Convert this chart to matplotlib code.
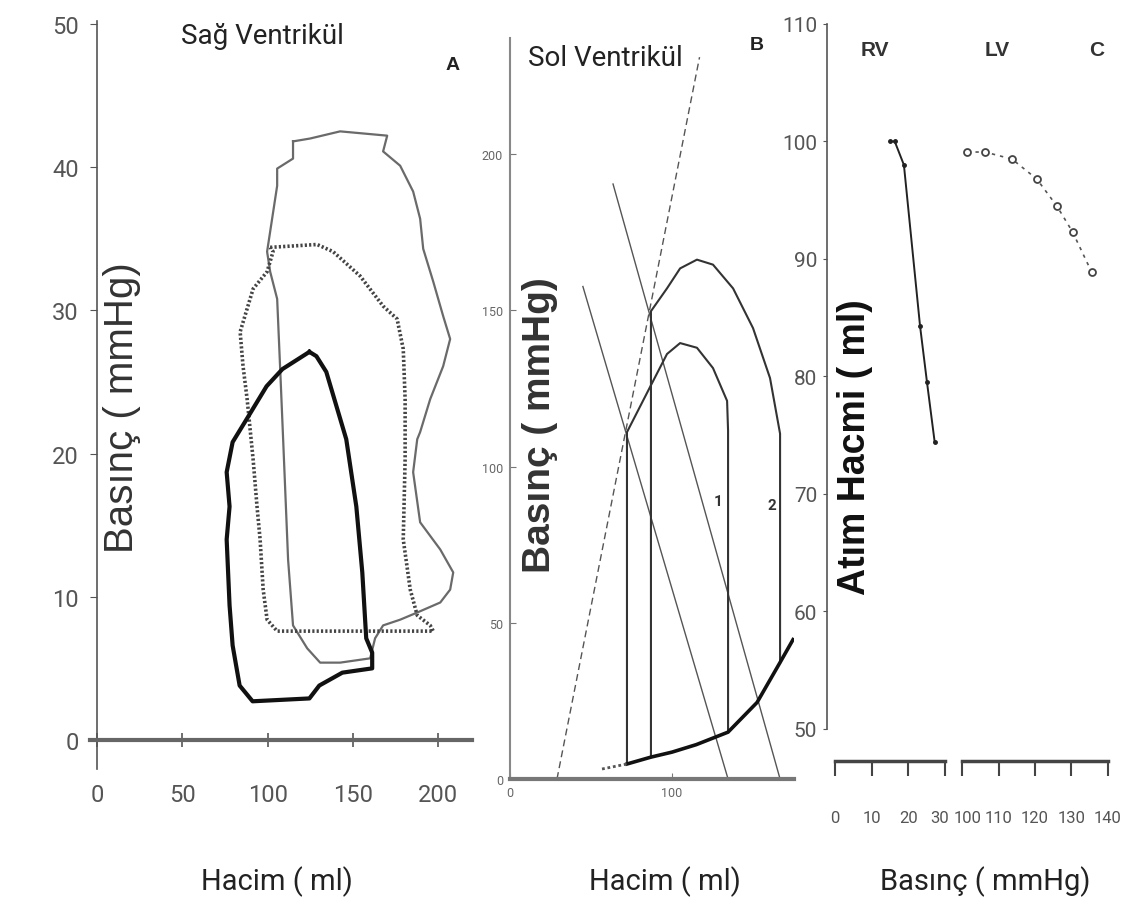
import numpy as np
import matplotlib
matplotlib.use("Agg")
import matplotlib.pyplot as plt
import matplotlib.transforms as mtransforms

W, H = 1123, 920
NARROW = ['Roboto', 'DejaVu Sans']
ARIAL = ['Liberation Sans', 'DejaVu Sans']

# ---- Panel A: sağ ventrikül basınç-hacim döngüleri
a_xticks = [0, 50, 100, 150, 200]
a_yticks = [0, 10, 20, 30, 40, 50]
# kalın düz döngü
thick_v = [124.5, 108.7, 99.4, 87.7, 79.5, 76.0, 77.7, 76.0, 77.7, 79.5, 83.6, 91.2,
           124.5, 130.3, 143.8, 161.3, 161.3, 157.8, 155.5, 152.0, 146.1, 134.4, 128.6, 124.5]
thick_p = [27.1, 25.9, 24.7, 22.4, 20.8, 18.7, 16.3, 14.0, 9.4, 6.6, 3.8, 2.7,
           2.9, 3.8, 4.7, 5.0, 6.1, 7.1, 11.7, 16.3, 21.0, 25.7, 26.8, 27.1]
# noktalı döngü
dot_v = [101.5, 129.0, 138.4, 154.2, 167.7, 175.9, 179.5, 180.6, 180.6, 179.5, 183.6, 187.7,
         195.3, 197.1, 105.6, 99.7, 97.4, 95.6, 93.8, 91.5, 88.0, 85.6, 83.9, 91.5, 99.7, 103.2, 101.5]
dot_p = [34.4, 34.6, 34.1, 32.4, 30.3, 29.4, 27.3, 23.8, 19.6, 14.0, 10.5, 8.7,
         8.0, 7.6, 7.6, 8.4, 10.5, 14.0, 16.3, 19.6, 23.8, 26.1, 28.5, 31.5, 32.7, 34.1, 34.4]
# ince gri döngü
thin_v = [114.9, 124.9, 142.5, 170.1, 167.7, 177.7, 185.3, 189.4, 191.2, 197.1, 202.9, 207.0,
          202.9, 195.3, 189.4, 187.7, 185.3, 189.4, 201.2, 208.8, 207.0, 201.2, 187.7, 177.7,
          167.7, 163.0, 160.1, 142.5, 130.8, 123.2, 114.9, 112.0, 109.1, 107.3, 105.6, 101.5,
          99.7, 105.6, 105.6, 114.9, 114.9]
thin_p = [41.8, 42.0, 42.5, 42.2, 41.1, 40.1, 38.3, 36.4, 34.3, 32.0, 29.6, 28.0,
          26.1, 23.8, 21.5, 21.0, 18.7, 15.2, 13.3, 11.7, 10.5, 9.6, 8.9, 8.4,
          8.0, 7.1, 5.7, 5.4, 5.4, 6.4, 8.0, 12.6, 21.0, 26.1, 30.8, 32.7,
          34.1, 38.7, 39.9, 40.6, 41.8]

# ---- Panel B: sol ventrikül (şematik)
b_xticks = [0, 100]
b_yticks = [0, 50, 100, 150, 200]
espvr_v = [29, 117]
espvr_p = [0, 231]
ea1_v = [45, 134.6]
ea1_p = [157.6, 0]
ea2_v = [63.6, 166.7]
ea2_p = [190.4, 0]
edpvr_v = [72.2, 87, 100, 115, 134.6, 152.5, 166.7, 174.7]
edpvr_p = [4.8, 7.0, 8.6, 11.0, 15.0, 24.5, 37.3, 44.6]
edpvr_ext_v = [56.8, 72.2]
edpvr_ext_p = [3.2, 4.8]
loop1_v = [72.2, 72.2, 86.4, 96.9, 105.0, 115.4, 125.3, 134.0, 134.6, 134.6]
loop1_p = [4.8, 111.0, 125.4, 136.0, 139.5, 138.0, 131.5, 121.0, 111.5, 15.0]
loop2_v = [87, 87, 96.9, 105.0, 115.4, 125.3, 137.7, 150.0, 160.5, 166.7, 166.7, 166.7]
loop2_p = [7.0, 149.7, 157.0, 163.4, 166.2, 164.6, 157.0, 144.3, 128.3, 110.5, 101.0, 37.3]

# ---- Panel C: atım hacmi - basınç
c_yticks = [50, 60, 70, 80, 90, 100, 110]
rv_press = [15.0, 16.3, 18.8, 23.2, 25.1, 27.2]
rv_sv = [100.0, 100.0, 98.0, 84.3, 79.5, 74.4]
rv_xticks = [0, 10, 20, 30]
lv_press = [101.4, 106.3, 113.7, 120.5, 126.0, 130.3, 135.5]
lv_sv = [99.1, 99.1, 98.5, 96.8, 94.5, 92.3, 88.9]
lv_xticks = [100, 110, 120, 130, 140]


def box(l, t, r, b):
    return [l / W, 1 - b / H, (r - l) / W, (b - t) / H]


def ftext(x, y, s, **kw):
    fig.text(x / W, 1 - y / H, s, ha='center', va='center', **kw)


fig = plt.figure(figsize=(W / 100, H / 100), dpi=100)
fig.patch.set_facecolor('white')

# ================= A
ax = fig.add_axes(box(90, 22.1, 472, 769.6))
ax.set_xlim(-4.1, 219.8)
ax.set_ylim(-2, 50.2)
ax.patch.set_alpha(0)
for s in ['top', 'right']:
    ax.spines[s].set_visible(False)
ax.spines['left'].set_position(('data', 0))
ax.spines['bottom'].set_position(('data', 0))
ax.spines['left'].set_color('#555555')
ax.spines['left'].set_linewidth(1.2)
ax.spines['bottom'].set_color('#666666')
ax.spines['bottom'].set_linewidth(3)
ax.set_xticks(a_xticks)
ax.set_yticks(a_yticks)
ax.tick_params(axis='y', direction='out', length=5, color='#555555', pad=8,
               labelsize=17, labelcolor='#555555')
ax.tick_params(axis='x', direction='inout', length=10, color='#555555', width=1.2, pad=26,
               labelsize=17, labelcolor='#555555')
for lab in ax.get_xticklabels() + ax.get_yticklabels():
    lab.set_family(NARROW)
ax.plot(thin_v, thin_p, color='#6a6a6a', lw=1.6, solid_joinstyle='round')
ax.plot(dot_v, dot_p, color='#444444', lw=2.6, linestyle=(0, (0.6, 0.6)))
ax.plot(thick_v, thick_p, color='#111111', lw=3.0, solid_joinstyle='round')
ax.text(0.084, 0.484, 'Basınç ( mmHg)', transform=ax.transAxes, rotation=90,
        ha='center', va='center', fontsize=29, color='#333333', family=ARIAL)

ftext(262, 36, 'Sağ Ventrikül', fontsize=20, color='#222222', family=NARROW)
ftext(453, 66, 'A', fontsize=14, fontweight='bold', color='#222222', family=ARIAL)
ftext(277, 882, 'Hacim ( ml)', fontsize=21, color='#222222', family=NARROW)

# ================= B
bx = fig.add_axes(box(510, 39.4, 794, 780))
bx.set_xlim(0, 175.3)
bx.set_ylim(0, 237)
bx.patch.set_alpha(0)
for s in ['top', 'right']:
    bx.spines[s].set_visible(False)
bx.spines['left'].set_color('#888888')
bx.spines['left'].set_linewidth(1.5)
bx.spines['bottom'].set_color('#777777')
bx.spines['bottom'].set_linewidth(3)
bx.set_xticks(b_xticks)
bx.set_yticks(b_yticks)
bx.tick_params(direction='in', length=4, color='#777777', labelsize=9,
               labelcolor='#666666', pad=5)
for lab in bx.get_xticklabels() + bx.get_yticklabels():
    lab.set_family(NARROW)
bx.plot(espvr_v, espvr_p, color='#555555', lw=1.0, linestyle=(0, (5, 3)))
bx.plot(ea1_v, ea1_p, color='#555555', lw=1.0)
bx.plot(ea2_v, ea2_p, color='#555555', lw=1.0)
bx.plot(loop1_v, loop1_p, color='#333333', lw=1.5)
bx.plot(loop2_v, loop2_p, color='#333333', lw=1.5)
bx.plot(edpvr_v, edpvr_p, color='#111111', lw=2.6)
bx.plot(edpvr_ext_v, edpvr_ext_p, color='#555555', lw=2, linestyle=(0, (1, 1)))
bx.text(128.4, 89, '1', fontsize=11, fontweight='bold', color='#333333',
        ha='center', va='center', family=NARROW)
bx.text(161.7, 87.6, '2', fontsize=11, fontweight='bold', color='#333333',
        ha='center', va='center', family=NARROW)
bx.text(0.106, 0.479, 'Basınç ( mmHg)', transform=bx.transAxes, rotation=90,
        ha='center', va='center', fontsize=28, fontweight='bold', color='#333333',
        family=ARIAL)

ftext(605, 58, 'Sol Ventrikül', fontsize=20, color='#222222', family=NARROW)
ftext(757, 46, 'B', fontsize=14, fontweight='bold', color='#222222', family=ARIAL)
ftext(665, 882, 'Hacim ( ml)', fontsize=21, color='#222222', family=NARROW)

# ================= C
ylo, yhi = 49.7, 110.2
cx = fig.add_axes(box(827, 22.6, 946.8, 733.5))
cx.set_xlim(-2.18, 30.5)
cx.set_ylim(ylo, yhi)
cx.patch.set_alpha(0)
for s in ['top', 'right']:
    cx.spines[s].set_visible(False)
cx.spines['left'].set_color('#555555')
cx.spines['left'].set_linewidth(1.2)
cx.spines['left'].set_bounds(50, 110)
cx.spines['bottom'].set_position(('outward', 20.5))
cx.spines['bottom'].set_bounds(0, 30)
cx.spines['bottom'].set_color('#444444')
cx.spines['bottom'].set_linewidth(2.5)
cx.set_yticks(c_yticks)
cx.set_xticks(rv_xticks)
cx.tick_params(axis='y', direction='out', length=3, color='#555555', pad=4,
               labelsize=15, labelcolor='#555555')
cx.tick_params(axis='x', direction='out', length=11, width=1.5, color='#444444', pad=24,
               labelsize=12, labelcolor='#555555')
for lab in cx.get_xticklabels() + cx.get_yticklabels():
    lab.set_family(NARROW)
cx.plot(rv_press, rv_sv, color='#222222', lw=1.4, marker='o', ms=2.5, clip_on=False)
cx.text(0.236, 0.403, 'Atım Hacmi ( ml)', transform=cx.transAxes, rotation=90,
        ha='center', va='center', fontsize=27, fontweight='bold', color='#111111',
        family=ARIAL)

lx = fig.add_axes(box(960.2, 22.6, 1109.8, 733.5))
lx.set_xlim(99.5, 140.5)
lx.set_ylim(ylo, yhi)
lx.patch.set_alpha(0)
for s in ['top', 'right', 'left']:
    lx.spines[s].set_visible(False)
lx.spines['bottom'].set_position(('outward', 20.5))
lx.spines['bottom'].set_bounds(100, 140)
lx.spines['bottom'].set_color('#444444')
lx.spines['bottom'].set_linewidth(2.5)
lx.set_yticks([])
lx.set_xticks(lv_xticks)
lx.tick_params(axis='x', direction='out', length=11, width=1.5, color='#444444', pad=24,
               labelsize=12, labelcolor='#555555')
for lab in lx.get_xticklabels():
    lab.set_family(NARROW)
lx.plot(lv_press, lv_sv, color='#555555', lw=1.2, linestyle=(0, (2, 3)),
        marker='o', ms=5, mfc='white', mec='#444444', mew=1.3, clip_on=False)

# 30 ve 100 etiketleri birbirine değmesin
fig.canvas.draw()
shift_l = mtransforms.ScaledTranslation(-4 / 72, 0, fig.dpi_scale_trans)
shift_r = mtransforms.ScaledTranslation(4 / 72, 0, fig.dpi_scale_trans)
lab30 = cx.get_xticklabels()[-1]
lab30.set_transform(lab30.get_transform() + shift_l)
lab100 = lx.get_xticklabels()[0]
lab100.set_transform(lab100.get_transform() + shift_r)

ftext(875, 50, 'RV', fontsize=15, fontweight='bold', color='#333333', family=ARIAL)
ftext(997, 50, 'LV', fontsize=15, fontweight='bold', color='#333333', family=ARIAL)
ftext(1097, 50, 'C', fontsize=15, fontweight='bold', color='#333333', family=ARIAL)
ftext(985, 882, 'Basınç ( mmHg)', fontsize=21, color='#222222', family=NARROW)

fig.savefig('out.png', dpi=100, facecolor='white')
